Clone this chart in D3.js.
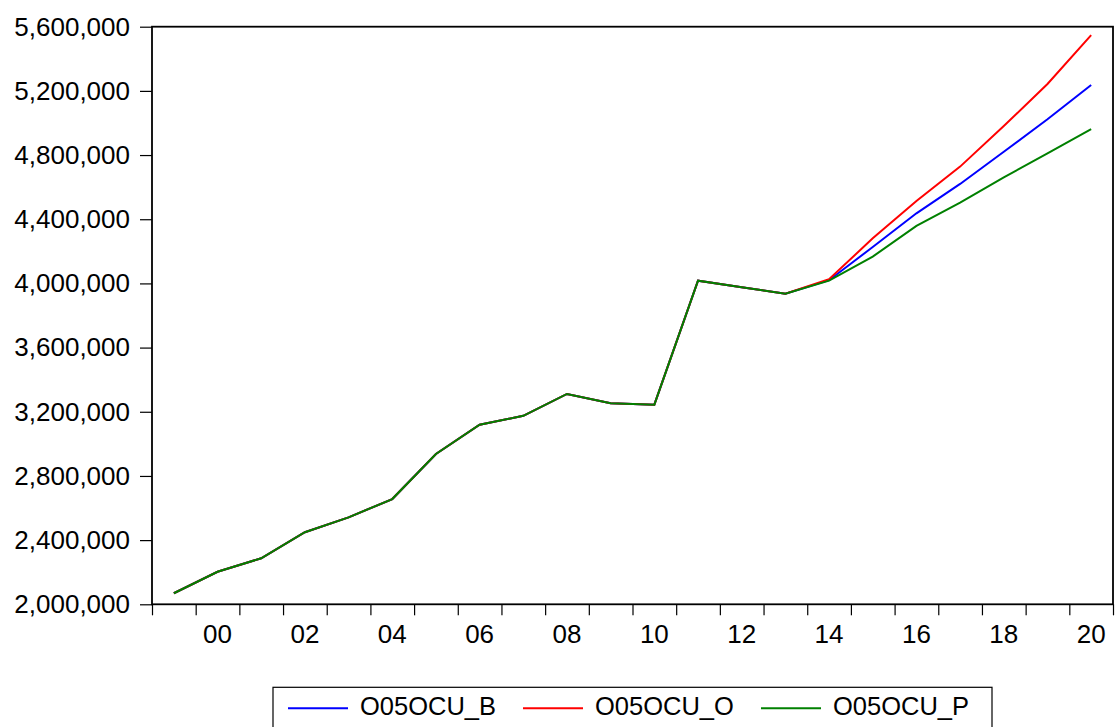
<!DOCTYPE html>
<html><head><meta charset="utf-8">
<script src="https://cdn.jsdelivr.net/npm/d3@7"></script>
<style>
body{margin:0;background:#fff;}
svg{display:block;}
text{font-family:"Liberation Sans",Arial,sans-serif;fill:#000;}
</style></head>
<body>
<svg id="c" width="1116" height="727"></svg>
<script>
const years = [1999,2000,2001,2002,2003,2004,2005,2006,2007,2008,2009,2010,2011,2012,2013,2014,2015,2016,2017,2018,2019,2020];
const seriesB = [2069000,2203000,2287000,2449000,2542000,2656000,2937000,3119000,3175000,3311000,3253000,3244000,4017000,3976000,3936000,4020000,4227000,4437000,4620000,4821000,5023000,5237000];
const seriesO = [2069000,2203000,2287000,2449000,2542000,2656000,2937000,3119000,3175000,3311000,3253000,3244000,4017000,3976000,3936000,4026000,4281000,4514000,4728000,4981000,5243000,5548000];
const seriesP = [2069000,2203000,2287000,2449000,2542000,2656000,2937000,3119000,3175000,3311000,3253000,3244000,4017000,3976000,3936000,4017000,4167000,4358000,4503000,4661000,4811000,4961000];
const seriesNames = ["O05OCU_B","O05OCU_O","O05OCU_P"];
const seriesColors = ["#0000ff","#ff0000","#008000"];
const yTicks = [2000000,2400000,2800000,3200000,3600000,4000000,4400000,4800000,5200000,5600000];
const xLabelYears = [2000,2002,2004,2006,2008,2010,2012,2014,2016,2018,2020];

const svg = d3.select("#c");
const L=152, R=1113, T=26.7, B=604.3;
const x = d3.scaleLinear().domain([1998.5,2020.5]).range([L,R]);
const y = d3.scaleLinear().domain([2000000,5600000]).range([B,T]);
const fs = "26px";

// y axis
const yAxis = d3.axisLeft(y).tickValues(yTicks).tickSize(12).tickPadding(10).tickFormat(d3.format(","));
const gy = svg.append("g").attr("transform",`translate(${L},0)`).call(yAxis);
gy.select(".domain").remove();
gy.selectAll("line").attr("stroke","#000").attr("stroke-width",1.2);
gy.selectAll("text").style("font-size",fs).attr("font-family","Liberation Sans, Arial, sans-serif");

// x axis: ticks at year boundaries
const bounds = d3.range(1998.5,2021,1);
const xAxis = d3.axisBottom(x).tickValues(bounds).tickSize(11).tickFormat("");
const gx = svg.append("g").attr("transform",`translate(0,${B})`).call(xAxis);
gx.select(".domain").remove();
gx.selectAll("line").attr("stroke","#000").attr("stroke-width",1.2);
svg.append("g").selectAll("text").data(xLabelYears).join("text")
  .attr("x",d=>x(d)).attr("y",643).attr("text-anchor","middle")
  .style("font-size",fs)
  .text(d=>String(d%100).padStart(2,"0"));

// frame
svg.append("rect").attr("x",L).attr("y",T).attr("width",R-L).attr("height",B-T)
  .attr("fill","none").attr("stroke","#000").attr("stroke-width",1.8);

// lines
const all = [seriesB, seriesO, seriesP];
const line = d3.line().x((d,i)=>x(years[i])).y(d=>y(d));
all.forEach((s,k)=>{
  svg.append("path").datum(s).attr("d",line).attr("fill","none")
    .attr("stroke",seriesColors[k]).attr("stroke-width",2).attr("stroke-linejoin","miter");
});

// legend
svg.append("rect").attr("x",273).attr("y",687.3).attr("width",719).attr("height",50)
  .attr("fill","#fff").attr("stroke","#000").attr("stroke-width",1.2);
const legX = [288,523,761];
seriesNames.forEach((n,k)=>{
  svg.append("line").attr("x1",legX[k]).attr("x2",legX[k]+60).attr("y1",708.3).attr("y2",708.3)
    .attr("stroke",seriesColors[k]).attr("stroke-width",2);
  svg.append("text").attr("x",legX[k]+72).attr("y",715).style("font-size","25.5px").text(n);
});
</script>
</body></html>
